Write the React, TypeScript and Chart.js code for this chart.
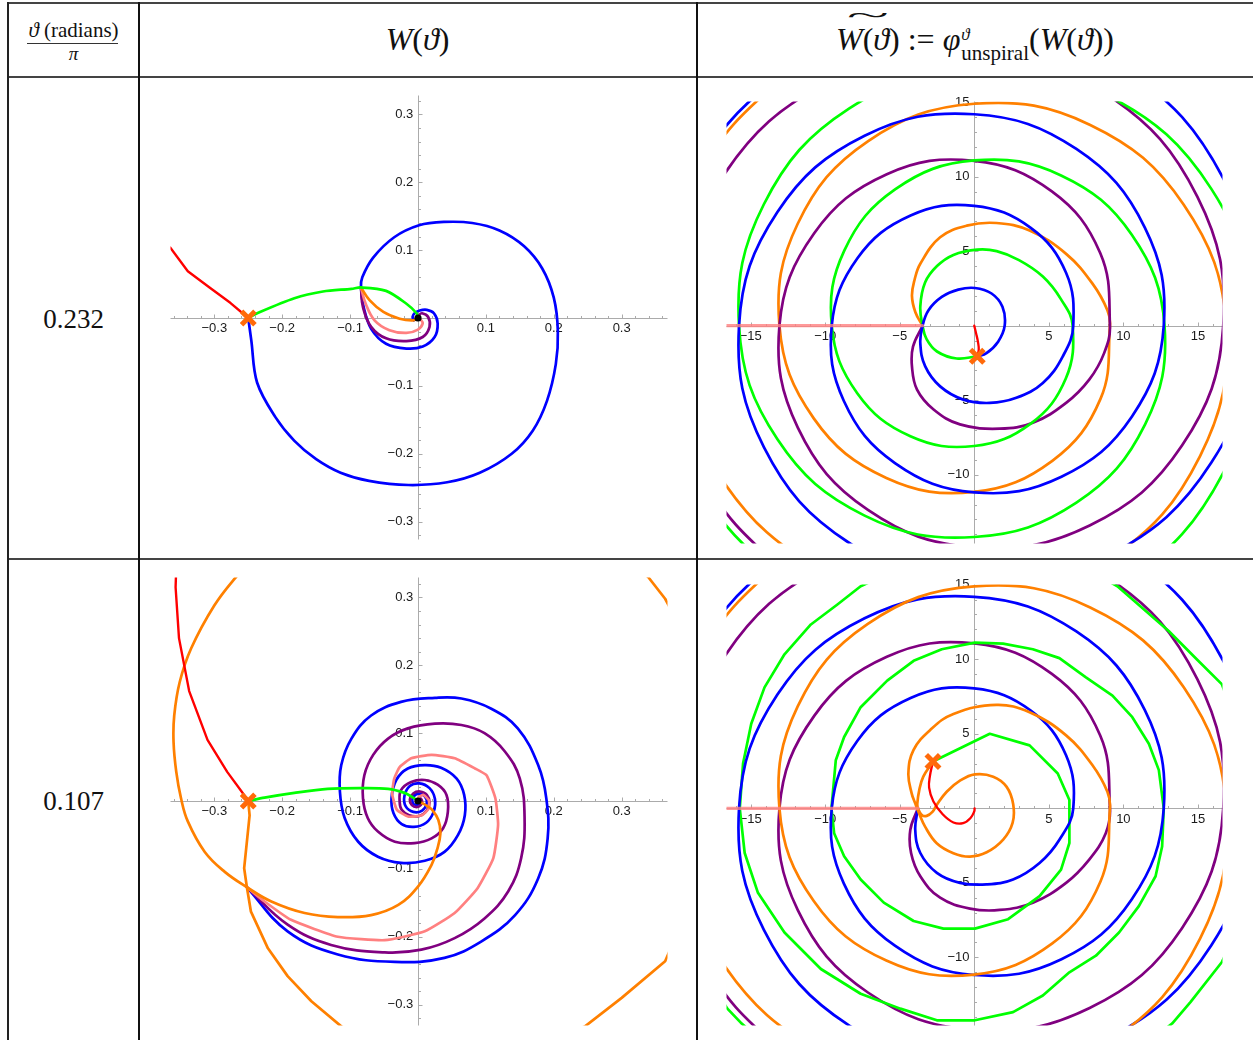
import React, { useEffect, useRef } from 'react';
import { Chart, registerables } from 'chart.js';

Chart.register(...registerables);

type P = [number, number];

// ---------------- tick labels ----------------
const W_TICKS = [-0.3, -0.2, -0.1, 0.1, 0.2, 0.3];
const U_TICKS = [-15, -10, -5, 5, 10, 15];

// ---------------- row labels ----------------
const ROW_LABELS = ['0.232', '0.107'];

// ================= Row 1 : W(theta), theta/pi = 0.232 =================
const TL_RED: P[] = [[-0.38, 0.116], [-0.365, 0.104], [-0.339, 0.069], [-0.307, 0.045], [-0.276, 0.022], [-0.25, 0]];
const TL_GREEN: P[] = [[-0.25, 0], [-0.239, 0.006], [-0.182, 0.029], [-0.14, 0.039], [-0.098, 0.043], [-0.084, 0.045], [-0.047, 0.04], [-0.017, 0.021], [-0.002, 0.007], [0, 0]];
const TL_ORANGE: P[] = [[-0.084, 0.045], [-0.071, 0.026], [-0.051, 0.009], [-0.027, -0.001], [-0.007, -0.0034], [0, 0]];
const TL_PINK: P[] = [[-0.084, 0.045], [-0.077, 0.021], [-0.064, -0.0034], [-0.042, -0.018], [-0.017, -0.022], [0, -0.017], [0.007, -0.008], [0.004, -0.0025], [0, 0]];
const TL_PURPLE: P[] = [[-0.084, 0.045], [-0.081, 0.016], [-0.069, -0.013], [-0.047, -0.03], [-0.017, -0.034], [0.007, -0.028], [0.017, -0.013], [0.015, 0.0015], [0.006, 0.007], [0.0015, 0.004], [0, 0]];
const TL_BLUE: P[] = [
  [-0.25, 0], [-0.2455, -0.033], [-0.237, -0.095], [-0.21, -0.146], [-0.182, -0.181], [-0.15, -0.208], [-0.114, -0.228],
  [-0.072, -0.24], [-0.014, -0.246], [0.043, -0.242], [0.091, -0.228], [0.138, -0.2], [0.169, -0.166], [0.19, -0.122],
  [0.203, -0.068], [0.206, -0.019], [0.2, 0.03], [0.183, 0.073], [0.156, 0.106], [0.12, 0.129], [0.08, 0.14],
  [0.038, 0.1415], [0.0016, 0.1366], [-0.035, 0.119], [-0.066, 0.089], [-0.082, 0.06], [-0.084, 0.045], [-0.08, 0.016],
  [-0.069, -0.016], [-0.047, -0.038], [-0.017, -0.045], [0.007, -0.042], [0.0245, -0.028], [0.029, -0.008], [0.0235, 0.007],
  [0.013, 0.012], [0.0025, 0.011], [-0.005, 0.007], [-0.008, 0.0015], [-0.006, -0.0034],
];
const TL_CROSS: P[] = [[-0.25, 0]];
const TL_DOT: P[] = [[0, 0]];

// ================= Row 1 : unspiraled =================
const TR_PINK: P[] = [[-20, 0], [-3.47, 0]];
const TR_RED: P[] = [[0, 0], [0.12, -0.5], [0.25, -1.1], [0.3, -1.6], [0.2, -2.05]];
const TR_CROSS: P[] = [[0.2, -2.05]];
const TR_BLUE_START: P[] = [
  [0.2, -2.05], [0.82, -1.84], [1.6, -1.07], [2.04, 0], [1.89, 1.27], [1.16, 2.16], [0.04, 2.53], [-1.07, 2.42],
  [-2.18, 1.93], [-3.07, 1.04], [-3.47, 0], [-3.62, -1.18], [-3.29, -2.73], [-2.29, -4.07], [-0.73, -4.96], [1.04, -5.18],
  [2.82, -4.84], [4.6, -3.84], [5.93, -2.07],
];
// outer blue rings (shared by both unspiraled panels)
const BLUE_OUTER: P[] = [
  [6.64, 0], [6.156, 3.554], [3.788, 6.56], [0, 8.043], [-4.271, 7.397], [-7.838, 4.526], [-9.56, 0], [-8.747, -5.051],
  [-5.322, -9.217], [0, -11.184], [5.848, -10.128], [10.568, -6.102], [12.71, 0], [11.433, 6.601], [6.847, 11.859],
  [0, 14.186], [-7.357, 12.742], [-13.204, 7.624], [-15.78, 0], [-14.113, -8.149], [-8.407, -14.56], [0, -17.33],
  [8.923, -15.455], [15.903, -9.182], [18.88, 0], [16.797, 9.698], [9.957, 17.245], [0, 20.43], [-10.473, 18.14],
  [-18.587, 10.732], [-21.98, 0],
];
const TR_GREEN: P[] = [
  [0.2, -2.05], [-1.18, -2.2], [-2.5, -1.73], [-3.2, -0.9], [-3.47, 0], [-3.62, 1.3], [-3.3, 2.9], [-2.5, 4.0], [-1.4, 4.75],
  [0.2, 5.1], [1.5, 5.0], [3.0, 4.4], [4.6, 3.3], [5.8, 1.8], [6.6, 0], [6.14, -3.545], [3.79, -6.565], [0, -8.071],
  [-4.284, -7.419], [-7.85, -4.532], [-9.56, 0], [-8.72, 5.034], [-5.289, 9.161], [0, 11.087], [5.821, 10.082],
  [10.566, 6.1], [12.76, 0], [11.459, -6.616], [6.852, -11.868], [0, -14.175], [-7.355, -12.739], [-13.203, -7.623],
  [-15.78, 0], [-14.113, 8.148], [-8.406, 14.56], [0, 17.328], [8.922, 15.453], [15.9, 9.18], [18.876, 0],
  [16.794, -9.696], [9.954, -17.241], [0, -20.424], [-10.47, -18.134], [-18.581, -10.728], [-21.97, 0],
];
const TR_PURPLE_START: P[] = [
  [-3.47, 0], [-4.11, -1.4], [-4.18, -2.73], [-3.84, -4.29], [-2.73, -5.62], [-0.96, -6.62], [1.71, -6.91], [3.93, -6.51],
  [6.16, -5.18], [7.71, -3.62], [8.71, -1.84],
];
const PURPLE_OUTER: P[] = [
  [9.1, 0], [8.447, 4.877], [5.204, 9.013], [0, 11.062], [-5.866, 10.159], [-10.738, 6.2], [-13.07, 0], [-11.837, -6.834],
  [-7.134, -12.356], [0, -14.866], [7.738, -13.402], [13.932, -8.044], [16.7, 0], [14.969, 8.643], [8.935, 15.476],
  [0, 18.455], [-9.52, 16.489], [-16.996, 9.813], [-20.21, 0], [-18.009, -10.398], [-10.69, -18.516],
];
const TR_ORANGE_START: P[] = [
  [-3.47, 0], [-3.95, 0.9], [-4.18, 2.0], [-4.0, 3.1], [-3.62, 4.16], [-2.29, 5.93], [-0.51, 6.71], [1.49, 6.89],
  [3.71, 6.38], [6.16, 4.82], [7.93, 2.82], [8.93, 1.04],
];
const ORANGE_OUTER: P[] = [
  [9.1, 0], [8.473, -4.892], [5.234, -9.065], [0, -11.152], [-5.898, -10.215], [-10.768, -6.217], [-13.07, 0],
  [-11.844, 6.838], [-7.141, 12.369], [0, 14.888], [7.777, 13.469], [14.051, 8.113], [16.9, 0], [15.145, -8.744],
  [9.038, -15.654], [0, -18.664], [-9.626, -16.673], [-17.182, -9.92], [-20.428, 0], [-18.2, 10.508], [-10.802, 18.71],
];
const TR_BLUE: P[] = [...TR_BLUE_START, ...BLUE_OUTER];
const TR_PURPLE: P[] = [...TR_PURPLE_START, ...PURPLE_OUTER];
const TR_ORANGE: P[] = [...TR_ORANGE_START, ...ORANGE_OUTER];

// ================= Row 2 : W(theta), theta/pi = 0.107 =================
const BL_RED: P[] = [[-0.356, 0.345], [-0.357, 0.315], [-0.352, 0.24], [-0.337, 0.162], [-0.31, 0.09], [-0.281, 0.043], [-0.256, 0.009], [-0.25, 0]];
const BL_GREEN: P[] = [[-0.25, 0], [-0.226, 0.005], [-0.182, 0.012], [-0.133, 0.018], [-0.084, 0.019], [-0.044, 0.018], [-0.02, 0.012], [-0.007, 0.005], [0, 0]];
const BL_ORANGE_A: P[] = [
  [0, 0], [0.006, -0.003], [0.013, -0.007], [0.021, -0.013], [0.03, -0.028], [0.033, -0.048], [0.028, -0.072], [0.02, -0.094],
  [0, -0.126], [-0.029, -0.153], [-0.069, -0.168], [-0.118, -0.171], [-0.167, -0.165], [-0.216, -0.148], [-0.252, -0.127],
  [-0.285, -0.104], [-0.314, -0.075], [-0.339, -0.03], [-0.349, 0.004], [-0.356, 0.043], [-0.36, 0.087], [-0.359, 0.126],
  [-0.351, 0.175], [-0.334, 0.225], [-0.3, 0.288], [-0.268, 0.33], [-0.24, 0.36],
];
const BL_ORANGE_B: P[] = [
  [-0.25, 0], [-0.248, -0.021], [-0.256, -0.099], [-0.252, -0.127], [-0.246, -0.163], [-0.221, -0.217], [-0.192, -0.258],
  [-0.157, -0.295], [-0.113, -0.332], [-0.05, -0.365], [0.05, -0.38], [0.15, -0.37], [0.246, -0.332], [0.3, -0.29],
  [0.364, -0.236], [0.41, -0.13], [0.43, 0], [0.42, 0.13], [0.4, 0.23], [0.364, 0.298], [0.339, 0.33], [0.28, 0.38],
];
const BL_PINK: P[] = [
  [-0.252, -0.127], [-0.226, -0.148], [-0.187, -0.175], [-0.118, -0.2], [-0.049, -0.205], [0.01, -0.192], [0.054, -0.165],
  [0.088, -0.128], [0.111, -0.084], [0.118, -0.035], [0.114, 0.004], [0.101, 0.038], [0.084, 0.048], [0.054, 0.063],
  [0.02, 0.068], [-0.01, 0.063], [-0.027, 0.05], [-0.035, 0.033], [-0.038, 0.01], [-0.031, -0.013], [-0.014, -0.023],
  [0.006, -0.021], [0.016, -0.011], [0.016, 0.001], [0.008, 0.009], [0.001, 0.006], [0, 0],
];
const BL_PURPLE: P[] = [
  [-0.252, -0.127], [-0.192, -0.182], [-0.128, -0.212], [-0.049, -0.223], [0.005, -0.219], [0.054, -0.202], [0.098, -0.173],
  [0.133, -0.133], [0.152, -0.084], [0.157, -0.025], [0.15, 0.033], [0.128, 0.073], [0.098, 0.1], [0.064, 0.112],
  [0.025, 0.114], [-0.015, 0.107], [-0.044, 0.092], [-0.066, 0.068], [-0.079, 0.038], [-0.081, 0.004], [-0.074, -0.025],
  [-0.059, -0.045], [-0.034, -0.06], [-0.005, -0.062], [0.02, -0.055], [0.037, -0.04], [0.044, -0.016], [0.042, 0.009],
  [0.029, 0.024], [0.01, 0.031], [-0.01, 0.028], [-0.025, 0.016], [-0.027, -0.001], [-0.024, -0.013], [-0.013, -0.021],
  [0.002, -0.022], [0.013, -0.014], [0.017, -0.002], [0.013, 0.009], [0.003, 0.014], [-0.007, 0.011], [-0.012, 0.002],
  [-0.009, -0.006], [-0.002, -0.009], [0.004, -0.006], [0.006, 0], [0.003, 0.004], [0, 0],
];
const BL_BLUE: P[] = [
  [-0.252, -0.127], [-0.192, -0.192], [-0.118, -0.226], [-0.034, -0.237], [0.039, -0.231], [0.093, -0.207], [0.143, -0.168],
  [0.177, -0.114], [0.191, -0.055], [0.189, 0.004], [0.177, 0.053], [0.147, 0.107], [0.108, 0.136], [0.064, 0.151],
  [0.025, 0.152], [-0.025, 0.146], [-0.069, 0.126], [-0.098, 0.092], [-0.113, 0.053], [-0.115, 0.014], [-0.108, -0.025],
  [-0.088, -0.06], [-0.059, -0.082], [-0.025, -0.091], [0.01, -0.088], [0.039, -0.075], [0.059, -0.05], [0.069, -0.021],
  [0.068, 0.009], [0.057, 0.033], [0.034, 0.049], [0.01, 0.053], [-0.015, 0.048], [-0.032, 0.031], [-0.039, 0.004],
  [-0.036, -0.018], [-0.024, -0.034], [-0.006, -0.038], [0.012, -0.032], [0.023, -0.016], [0.025, 0.003], [0.017, 0.019],
  [0.002, 0.026], [-0.012, 0.022], [-0.02, 0.007], [-0.018, -0.008], [-0.007, -0.016], [0.006, -0.014], [0.013, -0.003],
  [0.01, 0.007], [0.001, 0.011], [-0.007, 0.006], [-0.008, -0.002], [-0.003, -0.006], [0.002, -0.004],
];
const BL_CROSS: P[] = [[-0.25, 0]];
const BL_DOT: P[] = [[0, 0]];

// ================= Row 2 : unspiraled =================
const BR_PINK: P[] = [[-20, 0], [-3.78, 0]];
const BR_CROSS: P[] = [[-2.77, 3.14]];
const BR_RED: P[] = [[-2.77, 3.14], [-2.97, 2.2], [-3.03, 1.38], [-2.74, 0.45], [-2.12, -0.4], [-1.4, -0.95], [-0.75, -1.0], [-0.25, -0.65], [0, -0.2], [0.02, 0]];
const BR_BLUE_START: P[] = [
  [-3.78, 0], [-3.96, -1.44], [-3.62, -3.0], [-2.51, -4.33], [-0.96, -5.0], [0.82, -5.11], [2.6, -4.78], [4.38, -3.67],
  [5.71, -2.11],
];
const BR_PURPLE_START: P[] = [
  [-3.78, 0], [-4.29, -1.44], [-4.24, -3.0], [-3.62, -4.56], [-2.29, -6.0], [-0.29, -6.73], [1.71, -6.82], [3.93, -6.33],
  [6.16, -5.0], [7.71, -3.44], [8.82, -1.67],
];
const BR_ORANGE_START: P[] = [
  [-2.77, 3.14], [-3.42, 2.12], [-3.69, 1.22], [-3.82, 0.33], [-3.78, 0], [-3.52, -0.45], [-3.19, -0.51], [-2.79, -0.22],
  [-2.52, 0.22], [-1.85, 1.11], [-0.96, 1.85], [0.04, 2.27], [1.27, 2.12], [2.16, 1.45], [2.61, 0.27], [2.57, -0.98],
  [1.94, -2.1], [0.83, -2.95], [-0.29, -3.24], [-1.4, -3.01], [-2.52, -2.34], [-3.3, -1.23], [-3.72, -0.3], [-3.95, 0.3],
  [-4.2, 1.0], [-4.42, 2.34], [-4.08, 3.9], [-2.97, 5.24], [-1.4, 6.33], [1.49, 6.93], [3.71, 6.44], [6.16, 4.89],
  [7.93, 2.89], [8.93, 1.11],
];
const BR_GREEN: P[] = [
  [-2.77, 3.14], [1.04, 5.0], [3.71, 4.22], [5.6, 2.33], [6.38, 0.56], [6.38, -2.33], [5.82, -4.11], [4.38, -5.89],
  [2.27, -7.44], [0.04, -8.07], [-2.07, -8.07], [-4.07, -7.56], [-6.07, -6.33], [-7.62, -4.78], [-8.73, -3.22], [-9.4, -1.67],
  [-9.58, 0], [-9.29, 3.22], [-8.73, 4.78], [-7.62, 6.78], [-5.84, 8.56], [-4.07, 9.89], [-2.18, 10.67], [0.04, 11.11],
  [1.93, 11.04], [3.93, 10.67], [5.71, 10.07], [7.49, 8.78], [9.27, 7.56], [10.6, 6.11], [11.71, 4.33], [12.38, 2.56],
  [12.71, 0], [12.6, -2.56], [12.16, -4.56], [11.04, -6.56], [9.71, -8.33], [8.16, -9.89], [6.38, -11.0], [4.6, -12.56],
  [2.6, -13.67], [0.04, -14.22], [-2.51, -14.22], [-4.96, -13.44], [-7.62, -12.44], [-10.29, -10.78], [-12.73, -8.33],
  [-14.51, -5.67], [-15.4, -3.0], [-15.73, 0], [-15.51, 3.0], [-14.96, 5.67], [-14.07, 8.11], [-12.73, 10.33],
  [-10.96, 12.33], [-9.18, 13.67], [-7.62, 14.89], [-4, 16.6], [0, 17.3], [4, 17.1], [7.5, 16.1], [9.6, 14.89],
  [13.04, 11.89], [14.82, 10.1], [16.6, 8.33], [18.3, 4], [19, 0], [18.8, -4], [17.8, -7.8], [16.6, -10.33], [14.5, -13],
  [13.27, -14.44], [10, -17], [5, -19.2], [0, -20.2], [-5, -20.2], [-10, -18.7], [-13.5, -16.3], [-15.6, -14.44],
  [-16.56, -13.44], [-18.5, -10.5],
];
const BR_BLUE: P[] = [...BR_BLUE_START, ...BLUE_OUTER];
const BR_PURPLE: P[] = [...BR_PURPLE_START, ...PURPLE_OUTER];
const BR_ORANGE: P[] = [...BR_ORANGE_START, ...ORANGE_OUTER];

// ---------------- styling ----------------
const C_BLUE = '#0000FF';
const C_GREEN = '#00FF00';
const C_PURPLE = '#800080';
const C_ORANGE = '#FF8000';
const C_RED = '#FF0000';
const C_PINK = '#FF8080';
const C_CROSS = '#FF6A0A';

type Series = { pts: P[]; color: string; width?: number; tension?: number; kind?: 'line' | 'cross' | 'dot'; order: number };

const PAD = 14;
const LW = 2.7;

const mmaAxes = {
  id: 'mmaAxes',
  beforeDatasetsDraw(chart: any, _args: any, opts: any) {
    const { ctx, chartArea: a } = chart;
    const xs = chart.scales.x;
    const ys = chart.scales.y;
    const px = Math.round(xs.getPixelForValue(0)) + 0.5;
    const py = Math.round(ys.getPixelForValue(0)) + 0.5;
    const step = opts.minor;
    const major = opts.major;
    const isMajor = (v: number) => Math.abs(v / major - Math.round(v / major)) < 1e-6;
    ctx.save();
    ctx.strokeStyle = '#ababab';
    ctx.lineWidth = 1;
    ctx.beginPath();
    ctx.moveTo(a.left, py);
    ctx.lineTo(a.right, py);
    ctx.moveTo(px, a.top);
    ctx.lineTo(px, a.bottom);
    for (let k = Math.ceil(xs.min / step); k * step <= xs.max + 1e-9; k++) {
      const v = k * step;
      if (Math.abs(v) < 1e-9) continue;
      const len = isMajor(v) ? 4 : 2.5;
      const X = Math.round(xs.getPixelForValue(v)) + 0.5;
      ctx.moveTo(X, py);
      ctx.lineTo(X, py - len);
    }
    for (let k = Math.ceil(ys.min / step); k * step <= ys.max + 1e-9; k++) {
      const v = k * step;
      if (Math.abs(v) < 1e-9) continue;
      const len = isMajor(v) ? 4 : 2.5;
      const Y = Math.round(ys.getPixelForValue(v)) + 0.5;
      ctx.moveTo(px, Y);
      ctx.lineTo(px + len, Y);
    }
    ctx.stroke();
    ctx.restore();
  },
};

const fmtX = (v: number) => (v < 0 ? '\u2212' + String(-v) : String(v));
const fmtY = (v: number) => (v < 0 ? '\u2212' + String(-v) : String(v)) + ' \u200A';

type PlotProps = {
  left: number; top: number; width: number; height: number;
  xr: [number, number]; yr: [number, number];
  ticks: number[]; yTicks?: number[]; minor: number; major: number;
  series: Series[];
};

function Plot(props: PlotProps) {
  const ref = useRef<HTMLCanvasElement | null>(null);
  const { left, top, width, height, xr, yr, ticks, minor, major, series } = props;
  const yTicks = props.yTicks || ticks;
  useEffect(() => {
    if (!ref.current) return;
    const datasets = series.map((s) => {
      const data = s.pts.map(([x, y]) => ({ x, y }));
      if (s.kind === 'cross') {
        return { data, showLine: false, pointStyle: 'crossRot', pointRadius: 9.5, borderWidth: 5, borderColor: s.color, backgroundColor: s.color, order: s.order };
      }
      if (s.kind === 'dot') {
        return { data, showLine: false, pointStyle: 'circle', pointRadius: 3.6, borderWidth: 0, backgroundColor: s.color, borderColor: s.color, order: s.order };
      }
      return {
        data, showLine: true, pointRadius: 0, pointHoverRadius: 0, fill: false,
        borderColor: s.color, backgroundColor: s.color, borderWidth: s.width ?? LW,
        tension: s.tension ?? 0.4, borderCapStyle: 'round', borderJoinStyle: 'round', order: s.order,
      };
    });
    const tickFont = { family: '"Liberation Sans", Arial, sans-serif', size: 13 };
    const chart = new Chart(ref.current, {
      type: 'scatter',
      data: { datasets } as any,
      plugins: [mmaAxes as any],
      options: {
        animation: false,
        responsive: false,
        maintainAspectRatio: false,
        events: [],
        layout: { padding: PAD },
        elements: { line: { capBezierPoints: false } as any },
        plugins: { legend: { display: false }, tooltip: { enabled: false }, mmaAxes: { minor, major } } as any,
        scales: {
          x: {
            type: 'linear', min: xr[0], max: xr[1], position: { y: 0 } as any,
            grid: { display: false, drawTicks: false }, border: { display: false },
            afterBuildTicks: (s: any) => { s.ticks = ticks.filter((v) => v >= xr[0] && v <= xr[1]).map((v) => ({ value: v })); },
            ticks: { autoSkip: false, maxRotation: 0, minRotation: 0, padding: 3, color: '#1a1a1a', font: tickFont, callback: (v: any) => fmtX(Number(v)) },
          },
          y: {
            type: 'linear', min: yr[0], max: yr[1], position: { x: 0 } as any,
            grid: { display: false, drawTicks: false }, border: { display: false },
            afterBuildTicks: (s: any) => { s.ticks = yTicks.filter((v) => v >= yr[0] && v <= yr[1]).map((v) => ({ value: v })); },
            ticks: { autoSkip: false, padding: 3, color: '#1a1a1a', font: tickFont, callback: (v: any) => fmtY(Number(v)) },
          },
        },
      } as any,
    });
    return () => chart.destroy();
  }, []);
  const w = width + 2 * PAD;
  const h = height + 2 * PAD;
  return (
    <canvas
      ref={ref}
      width={w}
      height={h}
      style={{ position: 'absolute', left: left - PAD, top: top - PAD, width: w, height: h }}
    />
  );
}

const line = (l: number, t: number, w: number, h: number, c: string) => (
  <div style={{ position: 'absolute', left: l, top: t, width: w, height: h, background: c }} />
);

export default function App() {
  useEffect(() => {
    document.body.style.margin = '0';
  }, []);

  const tlSeries: Series[] = [
    { pts: TL_CROSS, color: C_CROSS, kind: 'cross', order: 0 },
    { pts: TL_DOT, color: '#000000', kind: 'dot', order: 1 },
    { pts: TL_RED, color: C_RED, width: 2.4, tension: 0, order: 2 },
    { pts: TL_GREEN, color: C_GREEN, tension: 0.3, order: 3 },
    { pts: TL_ORANGE, color: C_ORANGE, order: 4 },
    { pts: TL_PINK, color: C_PINK, order: 5 },
    { pts: TL_PURPLE, color: C_PURPLE, order: 6 },
    { pts: TL_BLUE, color: C_BLUE, tension: 0.35, order: 7 },
  ];
  const trSeries: Series[] = [
    { pts: TR_CROSS, color: C_CROSS, kind: 'cross', order: 0 },
    { pts: TR_PINK, color: 'rgba(255,128,128,0.8)', width: 3.2, tension: 0, order: 1 },
    { pts: TR_RED, color: C_RED, width: 2.3, order: 2 },
    { pts: TR_BLUE, color: C_BLUE, order: 3 },
    { pts: TR_GREEN, color: C_GREEN, order: 4 },
    { pts: TR_PURPLE, color: C_PURPLE, order: 5 },
    { pts: TR_ORANGE, color: C_ORANGE, order: 6 },
  ];
  const blSeries: Series[] = [
    { pts: BL_CROSS, color: C_CROSS, kind: 'cross', order: 0 },
    { pts: BL_DOT, color: '#000000', kind: 'dot', order: 1 },
    { pts: BL_RED, color: C_RED, width: 2.4, tension: 0, order: 2 },
    { pts: BL_GREEN, color: C_GREEN, tension: 0.3, order: 3 },
    { pts: BL_ORANGE_B, color: C_ORANGE, tension: 0, order: 4 },
    { pts: BL_ORANGE_A, color: C_ORANGE, order: 5 },
    { pts: BL_PINK, color: C_PINK, tension: 0.15, order: 6 },
    { pts: BL_PURPLE, color: C_PURPLE, order: 7 },
    { pts: BL_BLUE, color: C_BLUE, order: 8 },
  ];
  const brSeries: Series[] = [
    { pts: BR_CROSS, color: C_CROSS, kind: 'cross', order: 0 },
    { pts: BR_PINK, color: 'rgba(255,128,128,0.8)', width: 3.2, tension: 0, order: 1 },
    { pts: BR_RED, color: C_RED, width: 2.3, order: 2 },
    { pts: BR_ORANGE, color: C_ORANGE, order: 3 },
    { pts: BR_BLUE, color: C_BLUE, order: 4 },
    { pts: BR_GREEN, color: C_GREEN, tension: 0, order: 5 },
    { pts: BR_PURPLE, color: C_PURPLE, order: 6 },
  ];

  const serif = '"Liberation Serif", "Times New Roman", serif';

  return (
    <div style={{ position: 'relative', width: 1253, height: 1040, background: '#ffffff', overflow: 'hidden', fontFamily: serif, color: '#111' }}>
      {/* table rules */}
      {line(7, 2, 1246, 2, '#444')}
      {line(7, 76, 1246, 2, '#444')}
      {line(7, 558, 1246, 2, '#444')}
      {line(7, 2, 2, 1038, '#222')}
      {line(138, 2, 1.5, 1038, '#111')}
      {line(696, 2, 1.5, 1038, '#111')}

      {/* header cell 1 */}
      <div style={{ position: 'absolute', left: 9, width: 129, top: 19, textAlign: 'center', fontSize: 21, lineHeight: '22px', whiteSpace: 'nowrap' }}>
        <i>ϑ</i> (radians)
      </div>
      {line(27, 43, 91, 1.3, '#333')}
      <div style={{ position: 'absolute', left: 9, width: 129, top: 44, textAlign: 'center', fontSize: 19, lineHeight: '20px' }}>
        <i>π</i>
      </div>

      {/* header cell 2 */}
      <div style={{ position: 'absolute', left: 139, width: 557, top: 18, textAlign: 'center', fontSize: 32, lineHeight: '42px', whiteSpace: 'nowrap' }}>
        <i>W</i>(<i>ϑ</i>)
      </div>

      {/* header cell 3 */}
      <div style={{ position: 'absolute', left: 697, width: 556, top: 16, textAlign: 'center', fontSize: 32, lineHeight: '46px', whiteSpace: 'nowrap' }}>
        <span style={{ position: 'relative', display: 'inline-block' }}>
          <span style={{ position: 'absolute', left: 0, right: 0, top: -24, textAlign: 'center', fontSize: 26, transform: 'scaleX(3.0)' }}>~</span>
          <i>W</i>(<i>ϑ</i>)
        </span>
        {' := '}
        <i>φ</i>
        <span style={{ display: 'inline-block', verticalAlign: -10, lineHeight: 1, textAlign: 'left', marginLeft: 1 }}>
          <span style={{ display: 'block', fontSize: 17, fontStyle: 'italic', marginBottom: 0 }}>ϑ</span>
          <span style={{ display: 'block', fontSize: 21 }}>unspiral</span>
        </span>
        (<i>W</i>(<i>ϑ</i>))
      </div>

      {/* row labels */}
      <div style={{ position: 'absolute', left: 9, width: 129, top: 299, textAlign: 'center', fontSize: 27, lineHeight: '40px' }}>{ROW_LABELS[0]}</div>
      <div style={{ position: 'absolute', left: 9, width: 129, top: 781, textAlign: 'center', fontSize: 27, lineHeight: '40px' }}>{ROW_LABELS[1]}</div>

      {/* charts */}
      <Plot left={170} top={95} width={498} height={445} xr={[-0.3645, 0.3675]} yr={[-0.3263, 0.3278]} ticks={W_TICKS} minor={0.02} major={0.1} series={tlSeries} />
      <Plot left={726} top={101} width={497} height={443} xr={[-16.62, 16.65]} yr={[-14.61, 15.04]} ticks={U_TICKS} minor={1} major={5} series={trSeries} />
      <Plot left={170} top={577} width={498} height={449} xr={[-0.3645, 0.3675]} yr={[-0.3307, 0.3293]} ticks={W_TICKS} minor={0.02} major={0.1} series={blSeries} />
      <Plot left={726} top={584} width={497} height={442} xr={[-16.62, 16.65]} yr={[-14.57, 15.01]} ticks={U_TICKS} minor={1} major={5} series={brSeries} />
    </div>
  );
}
